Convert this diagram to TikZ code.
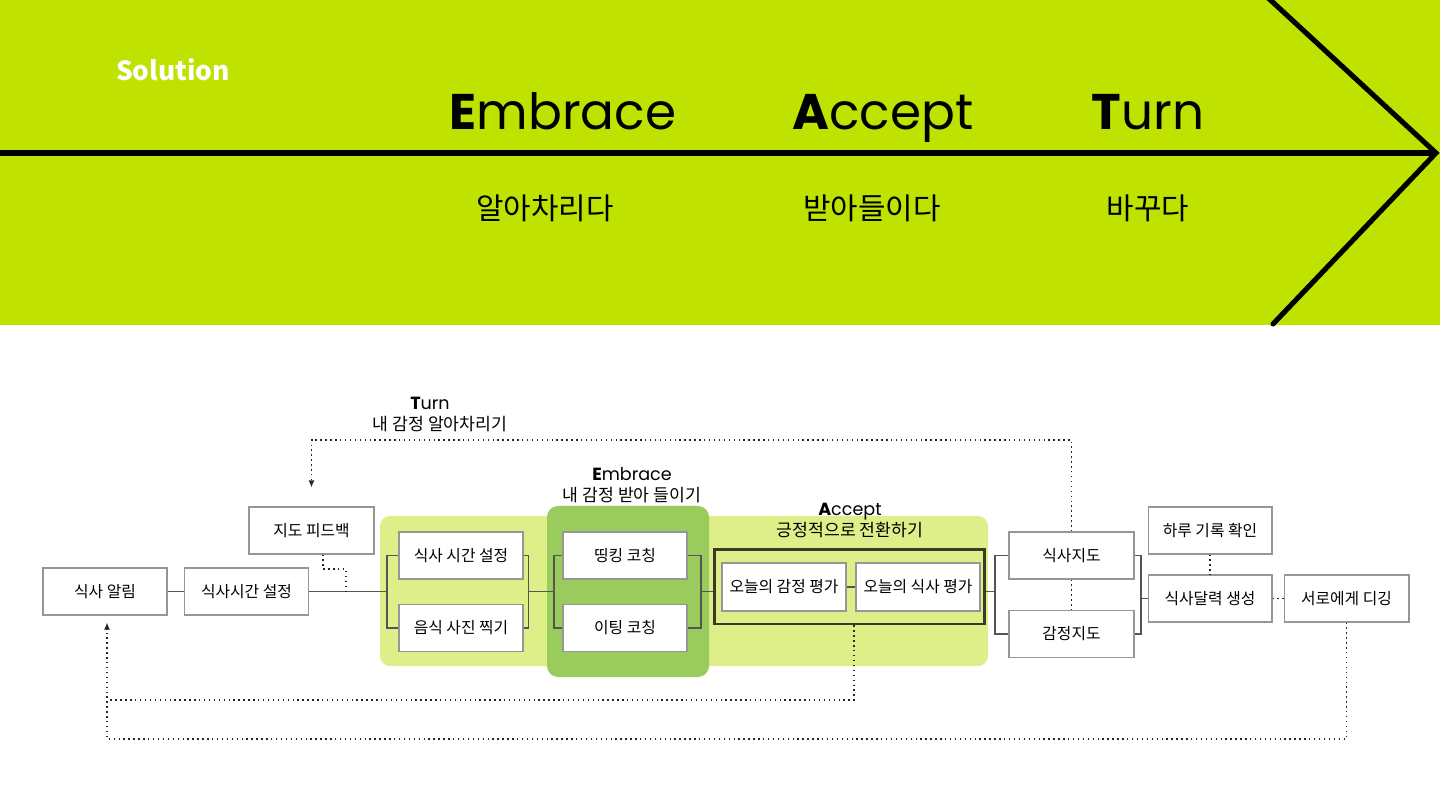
\documentclass[tikz,border=0pt]{standalone}
\usepackage{fontspec}
\setmainfont{Noto Sans CJK KR}
\newfontfamily\latinfont{Poppins}
\usetikzlibrary{arrows.meta}
\definecolor{limeband}{RGB}{191,226,0}
\definecolor{panelA}{RGB}{222,239,138}
\definecolor{panelE}{RGB}{153,204,92}
\definecolor{boxline}{RGB}{150,150,150}
\definecolor{wirecol}{RGB}{85,85,85}
\definecolor{frameol}{RGB}{58,58,38}
\begin{document}
\begin{tikzpicture}[x=0.02cm,y=-0.02cm,
    box/.style={draw=boxline, line width=0.6pt, fill=white, minimum width=2.48cm,
        minimum height=0.94cm, inner sep=0pt, font=\fontsize{9}{10}\selectfont},
    wire/.style={draw=wirecol, line width=0.6pt},
    dots/.style={draw=black!85, dotted, line width=0.8pt},
    tip/.style={-{Latex[length=4pt,width=3.5pt]}},
    head/.style={font=\latinfont\fontsize{28.5}{34}\selectfont, inner sep=0pt, anchor=base},
    sub/.style={font=\fontsize{17}{20}\selectfont, inner sep=0pt},
    lbl/.style={font=\fontsize{9.8}{11}\selectfont, inner sep=0pt},
    lbll/.style={font=\latinfont\fontsize{10}{12}\selectfont, inner sep=0pt, anchor=base}]
    \useasboundingbox (0,0) rectangle (1440,810);
    % top band with the arrow
    \fill[limeband] (0,0) rectangle (1440,325);
    \draw[line width=2.9pt] (0,153) -- (1436,153);
    \draw[line width=2.9pt, line cap=round] (1265,-5) -- (1436,153) -- (1273,324);
    \node[font=\fontsize{15}{18}\selectfont\bfseries, text=white] (solution) at (173,70) {Solution};
    \node[head] (hEmbrace) at (563,130) {\textbf{E}mbrace};
    \node[head] (hAccept) at (883,130) {\textbf{A}ccept};
    \node[head] (hTurn) at (1148,130) {\textbf{T}urn};
    \node[sub] (kEmbrace) at (545,208) {알아차리다};
    \node[sub] (kAccept) at (872,208) {받아들이다};
    \node[sub] (kTurn) at (1148,208) {바꾸다};

    % panels
    \fill[panelA, rounded corners=0.2cm] (380,516) rectangle (988,666);
    \fill[panelE, rounded corners=0.22cm] (547,506) rectangle (709,677);

    % labels
    \node[lbll] (turnA) at (430,410) {\textbf{T}urn};
    \node[lbl] (turnB) at (440,424) {내 감정 알아차리기};
    \node[lbll] (embA) at (632,480) {\textbf{E}mbrace};
    \node[lbl] (embB) at (632,495) {내 감정 받아 들이기};
    \node[lbll] (accA) at (850,516) {\textbf{A}ccept};
    \node[lbl] (accB) at (850,530) {긍정적으로 전환하기};

    % boxes
    \node[box] (alarm) at (105,591.5) {식사 알림};
    \node[box] (settime) at (246.5,591.5) {식사시간 설정};
    \node[box, minimum width=2.5cm] (feedback) at (311.5,530.5) {지도 피드백};
    \node[box] (mealset) at (461,555.5) {식사 시간 설정};
    \node[box] (photo) at (461,628) {음식 사진 찍기};
    \node[box] (think) at (625,555.5) {띵킹 코칭};
    \node[box] (eat) at (625,628) {이팅 코칭};
    \node[draw=frameol, line width=1.7pt, minimum width=5.42cm, minimum height=1.5cm,
        inner sep=0pt] (accept) at (849.5,586.5) {};
    \node[box, minimum height=0.96cm] (emoeval) at (784,587) {오늘의 감정 평가};
    \node[box, minimum height=0.96cm] (mealeval) at (918,587) {오늘의 식사 평가};
    \node[box, minimum width=2.5cm] (mealmap) at (1071.5,555.5) {식사지도};
    \node[box, minimum width=2.5cm] (emomap) at (1071.5,634) {감정지도};
    \node[box] (daylog) at (1210,530.5) {하루 기록 확인};
    \node[box] (calendar) at (1210,598.5) {식사달력 생성};
    \node[box, minimum width=2.5cm] (digging) at (1346.5,598.5) {서로에게 디깅};

    % joints
    \coordinate (jA) at (387,591.5);
    \coordinate (jB) at (528.5,591.5);
    \coordinate (jC) at (554,591.5);
    \coordinate (jD) at (701,591.5);
    \coordinate (jE) at (995,591.5);
    \coordinate (jF) at (1141,598.5);
    \coordinate (jFb) at (346,591.5);
    \coordinate (turnC) at (1071.5,440);
    \coordinate (loopA) at (107,700);
    \coordinate (loopB) at (107,739);

    % solid connectors
    \draw[wire] (alarm) -- (settime);
    \draw[wire] (settime.east) -- (jA);
    \draw[wire] (mealset.west) -| (jA) |- (photo.west);
    \draw[wire] (mealset.east) -| (jB) |- (photo.east);
    \draw[wire] (jB) -- (jC);
    \draw[wire] (think.west) -| (jC) |- (eat.west);
    \draw[wire] (think.east) -| (jD) |- (eat.east);
    \draw[wire] (jD) -- (jD -| accept.west);
    \draw[wire] (emoeval) -- (mealeval);
    \draw[wire] (jE -| accept.east) -- (jE);
    \draw[wire] (mealmap.west) -| (jE) |- (emomap.west);
    \draw[wire] (mealmap.east) -| (jF) |- (emomap.east);
    \draw[wire] (jF) -- (calendar.west);

    % dotted connectors
    \draw[dots, tip, shorten >=0.38cm] (mealmap.north) -- (turnC) -| (feedback.north);
    \draw[dots] (mealmap.south) -- (emomap.north);
    \draw[dots] ([xshift=0.23cm]feedback.south) |- ([yshift=0.45cm]jFb) -- (jFb);
    \draw[dots] (daylog) -- (calendar);
    \draw[dots] (calendar) -- (digging);
    \draw[dots] ([xshift=0.09cm]accept.south) |- (loopA);
    \draw[dots, tip, shorten >=0.14cm] (digging.south) |- (loopB) -- (alarm.south -| loopB);
\end{tikzpicture}
\end{document}
